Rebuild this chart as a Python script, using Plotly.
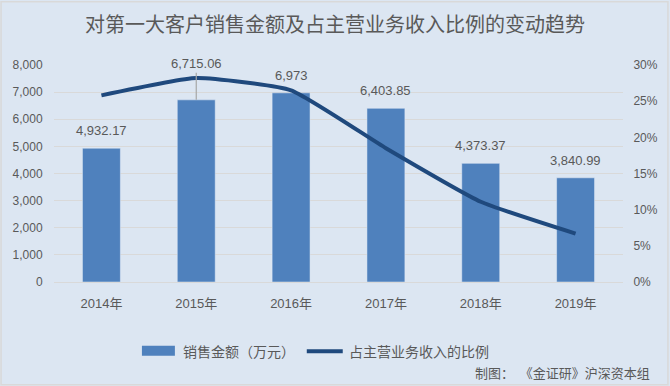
import plotly.graph_objects as go

years = ["2014年", "2015年", "2016年", "2017年", "2018年", "2019年"]
sales = [4932.17, 6715.06, 6973, 6403.85, 4373.37, 3840.99]
sales_labels = ["4,932.17", "6,715.06", "6,973", "6,403.85", "4,373.37", "3,840.99"]
ratio = [0.258, 0.282, 0.265, 0.185, 0.111, 0.067]

bar_name = "销售金额（万元）"
line_name = "占主营业务收入的比例"
title_text = "对第一大客户销售金额及占主营业务收入比例的变动趋势"
footer_text = "制图：《金证研》沪深资本组"

W, H = 670, 386
ML, MR, MT, MB = 54, 46.5, 64.5, 104
PW = W - ML - MR
PH = H - MT - MB

def px(x):
    return (x - ML) / PW

def py(y):
    return (H - MB - y) / PH

BAR_C = "#4f81bd"
LINE_C = "#1f497d"
TXT = "#595959"
BG = "#dce6f2"
GRID = "#d9d9d9"
FONT = "Liberation Sans, Arial, Noto Sans CJK SC"
CJK = "Noto Sans CJK SC, Liberation Sans"

fig = go.Figure()
fig.add_trace(go.Bar(x=years, y=sales, name=bar_name, marker_color=BAR_C,
                     showlegend=False, yaxis="y"))
fig.add_trace(go.Scatter(x=years, y=ratio, name=line_name, mode="lines",
                         line=dict(color=LINE_C, width=4, shape="spline", smoothing=0.45),
                         showlegend=False, yaxis="y2"))

annotations = []
for i, (yr, v, lab) in enumerate(zip(years, sales, sales_labels)):
    if i == 1:
        annotations.append(dict(x=yr, y=v, xref="x", yref="y", text=lab,
                                showarrow=True, arrowhead=0, arrowwidth=1.2,
                                arrowcolor="#a6a6a6", ax=0, ay=-36, standoff=0,
                                font=dict(size=13, color=TXT, family=FONT)))
    else:
        annotations.append(dict(x=yr, y=v, xref="x", yref="y", text=lab,
                                showarrow=False, yanchor="middle", yshift=17.5,
                                font=dict(size=13, color=TXT, family=FONT)))

# legend texts
annotations.append(dict(x=px(181), y=py(351.5), xref="paper", yref="paper", text=bar_name,
                        showarrow=False, xanchor="left", yanchor="middle",
                        font=dict(size=14, color=TXT, family=CJK)))
annotations.append(dict(x=px(347.5), y=py(351.5), xref="paper", yref="paper", text=line_name,
                        showarrow=False, xanchor="left", yanchor="middle",
                        font=dict(size=14, color=TXT, family=CJK)))
annotations.append(dict(x=px(653), y=py(372.5), xref="paper", yref="paper",
                        text=footer_text.replace("：", "：&nbsp;&nbsp;"),
                        showarrow=False, xanchor="right", yanchor="middle",
                        font=dict(size=13, color=TXT, family=CJK)))

shapes = [
    dict(type="rect", xref="paper", yref="paper", x0=px(142), x1=px(175),
         y0=py(356), y1=py(346), fillcolor=BAR_C, line=dict(width=0)),
    dict(type="line", xref="paper", yref="paper", x0=px(307), x1=px(343),
         y0=py(351.5), y1=py(351.5), line=dict(color=LINE_C, width=4)),
    dict(type="rect", xref="paper", yref="paper", x0=px(1), x1=px(668.5),
         y0=py(385), y1=py(1), line=dict(color=GRID, width=1.5), layer="below"),
]

fig.update_layout(
    width=W, height=H,
    margin=dict(l=ML, r=MR, t=MT, b=MB),
    paper_bgcolor=BG, plot_bgcolor=BG,
    title=dict(text=title_text, x=0.5, xanchor="center", y=1 - 25 / H, yanchor="middle",
               font=dict(size=20, color=TXT, family=CJK)),
    bargap=0.6,
    xaxis=dict(showgrid=False, showline=False, zeroline=False,
               ticks="outside", ticklen=9, tickcolor="rgba(0,0,0,0)",
               tickfont=dict(size=13, color=TXT, family=FONT)),
    yaxis=dict(range=[0, 8000], dtick=1000, tickformat=",", showgrid=True,
               gridcolor=GRID, gridwidth=1, zeroline=True, zerolinecolor=GRID,
               zerolinewidth=1, showline=False,
               ticks="outside", ticklen=8, tickcolor="rgba(0,0,0,0)",
               tickfont=dict(size=12, color=TXT, family=FONT)),
    yaxis2=dict(range=[0, 0.30], dtick=0.05, tickformat=".0%", overlaying="y",
                side="right", showgrid=False, zeroline=False, showline=False,
                ticks="outside", ticklen=7, tickcolor="rgba(0,0,0,0)",
                tickfont=dict(size=12, color=TXT, family=FONT)),
    annotations=annotations,
    shapes=shapes,
    showlegend=False,
)

fig.write_html("out.html", config={"displayModeBar": False},
               post_script="document.body.style.margin='0';document.body.style.overflow='hidden';")
